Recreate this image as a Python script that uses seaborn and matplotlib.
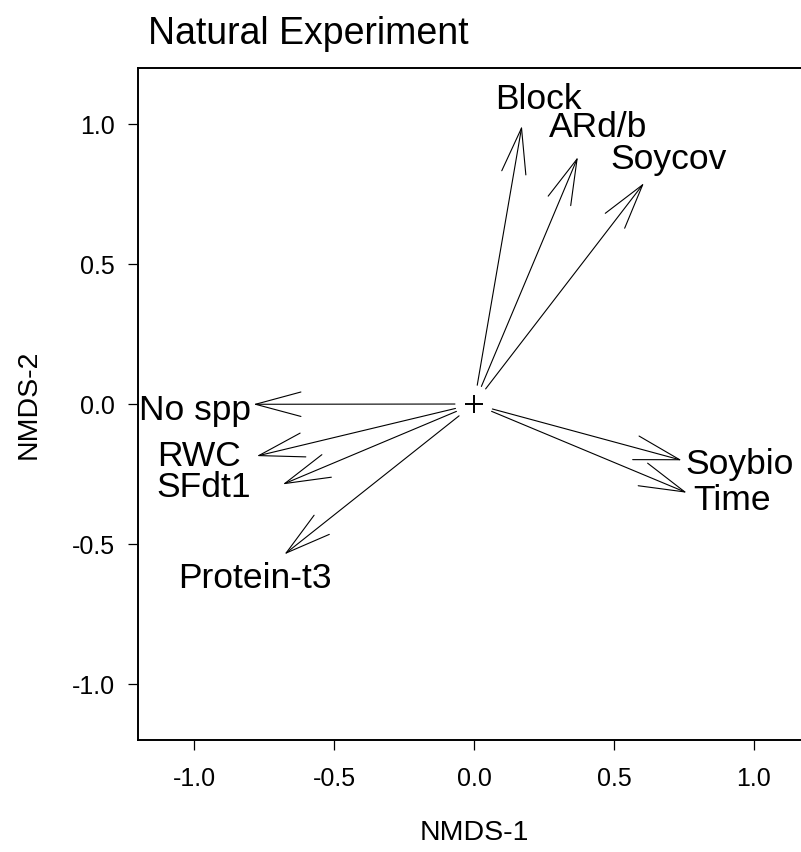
import matplotlib
matplotlib.use("Agg")
import matplotlib.pyplot as plt
from matplotlib.patches import FancyArrowPatch
import numpy as np
import pandas as pd
import seaborn as sns

# ---- data ----
labels = ["Block", "ARd/b", "Soycov", "No spp", "RWC", "SFdt1", "Protein-t3", "Soybio", "Time"]
arrow_x = [0.171, 0.371, 0.607, -0.788, -0.776, -0.683, -0.677, 0.742, 0.760]
arrow_y = [0.993, 0.882, 0.789, -0.001, -0.186, -0.287, -0.537, -0.201, -0.317]
label_x = [0.229, 0.445, 0.696, -0.996, -0.982, -0.964, -0.782, 0.950, 0.921]
label_y = [1.054, 0.954, 0.839, -0.057, -0.221, -0.332, -0.657, -0.249, -0.379]
origin_x = [0.0]
origin_y = [0.0]
tick_vals = [-1.0, -0.5, 0.0, 0.5, 1.0]
tick_labels = ["-1.0", "-0.5", "0.0", "0.5", "1.0"]
title = "Natural Experiment"
xlabel = "NMDS-1"
ylabel = "NMDS-2"

sns.set_theme(style="white")
plt.rcParams["font.family"] = ["Liberation Sans", "DejaVu Sans"]

W, H = 801, 852
fig = plt.figure(figsize=(W / 100, H / 100), dpi=100)
ax = fig.add_axes([138 / W, (H - 740) / H, 672 / W, 672 / H])

df = pd.DataFrame({"x": arrow_x, "y": arrow_y, "label": labels,
                   "lx": label_x, "ly": label_y})

# origin marker
sns.scatterplot(x=origin_x, y=origin_y, marker="+", s=180, color="black",
                linewidth=1.4, ax=ax, zorder=3)

gap = 0.068
for _, r in df.iterrows():
    L = np.hypot(r.x, r.y)
    sx, sy = r.x * gap / L, r.y * gap / L
    arr = FancyArrowPatch((sx, sy), (r.x, r.y),
                          arrowstyle="->,head_length=32.7,head_width=8.8",
                          mutation_scale=1, shrinkA=0, shrinkB=0,
                          lw=0.8, color="black")
    ax.add_patch(arr)
    ax.text(r.lx, r.ly, r.label, ha="center", va="baseline", fontsize=25.5,
            color="black")

ax.set_xlim(-1.2, 1.2)
ax.set_ylim(-1.2, 1.2)
ax.set_xticks(tick_vals)
ax.set_xticklabels(tick_labels)
ax.set_yticks(tick_vals)
ax.set_yticklabels(tick_labels)
ax.tick_params(axis="both", direction="out", length=7.5, width=0.9,
               color="black", labelsize=18, labelcolor="black",
               bottom=True, left=True)
ax.tick_params(axis="x", pad=12)
ax.tick_params(axis="y", pad=9)
for s in ax.spines.values():
    s.set_color("black")
    s.set_linewidth(1.4)

ax.set_xlabel(xlabel, fontsize=20.5, va="center", color="black")
ax.xaxis.set_label_coords(0.5, (740 - 833) / 672)
ax.set_ylabel(ylabel, fontsize=20.5, va="center", color="black")
ax.yaxis.set_label_coords((29 - 138) / 672, 0.5)

fig.text(148 / W, 1 - 44 / H, title, ha="left", va="baseline", fontsize=27,
         color="black")

fig.savefig("out.png", dpi=100)
